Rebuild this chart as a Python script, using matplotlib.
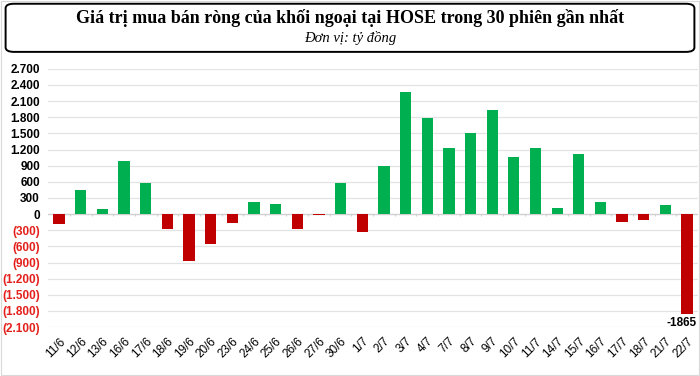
import matplotlib
matplotlib.use("Agg")
import matplotlib.pyplot as plt
from matplotlib.patches import FancyBboxPatch, Rectangle
from matplotlib.ticker import FuncFormatter

# data (ty dong)
dates = ["11/6", "12/6", "13/6", "16/6", "17/6", "18/6", "19/6", "20/6", "23/6", "24/6",
         "25/6", "26/6", "27/6", "30/6", "1/7", "2/7", "3/7", "4/7", "7/7", "8/7",
         "9/7", "10/7", "11/7", "14/7", "15/7", "16/7", "17/7", "18/7", "21/7", "22/7"]
net_value = [-180, 450, 100, 980, 570, -280, -880, -560, -160, 220,
             180, -280, -20, 580, -340, 890, 2270, 1780, 1230, 1500,
             1940, 1070, 1220, 120, 1110, 220, -155, -105, 175, -1865]
y_ticks = [-2100, -1800, -1500, -1200, -900, -600, -300, 0, 300, 600, 900,
           1200, 1500, 1800, 2100, 2400, 2700]

GREEN = "#00b050"
RED = "#c00000"
LABEL_RED = "#e3201b"

fig = plt.figure(figsize=(7, 3.76), dpi=100)
fig.patch.set_facecolor("white")

# outer light border + title box
fig.patches.append(Rectangle((0.001, 0.002), 0.997, 0.996, transform=fig.transFigure,
                             fill=False, edgecolor="#d9d9d9", lw=0.8))
fig.patches.append(FancyBboxPatch((0.008, 0.862), 0.984, 0.128, transform=fig.transFigure,
                                  boxstyle="round,pad=0,rounding_size=0.012",
                                  fill=False, edgecolor="black", lw=1.4))
fig.text(0.5, 0.952, "Giá trị mua bán ròng của khối ngoại tại HOSE trong 30 phiên gần nhất",
         ha="center", va="center", fontsize=13, fontweight="bold", family="Liberation Serif")
fig.text(0.5, 0.900, "Đơn vị: tỷ đồng", ha="center", va="center", fontsize=10.5,
         style="italic", family="Liberation Serif")

ax = fig.add_axes([0.069, 0.130, 0.928, 0.687])
xs = list(range(len(dates)))
colors = [GREEN if v >= 0 else RED for v in net_value]
ax.bar(xs, net_value, width=0.52, color=colors, zorder=3)

ax.set_xlim(-0.5, len(dates) - 0.5)
ax.set_ylim(-2100, 2700)
ax.set_yticks(y_ticks)
ax.yaxis.set_major_formatter(FuncFormatter(
    lambda v, p: f"{abs(int(v)):,}".replace(",", ".") if v >= 0
    else "(" + f"{abs(int(v)):,}".replace(",", ".") + ")"))
for lab, v in zip(ax.get_yticklabels(), y_ticks):
    lab.set_color("black" if v >= 0 else LABEL_RED)
    lab.set_fontweight("bold")
    lab.set_family("Liberation Sans")
    lab.set_fontsize(8.5)
ax.tick_params(axis="y", length=0, pad=6)
ax.grid(axis="y", color="#e3e3e3", lw=0.9, zorder=0)

ax.set_xticks(xs)
ax.set_xticklabels(dates, rotation=45, ha="right", rotation_mode="anchor",
                   fontsize=8.5, family="Liberation Sans")
ax.tick_params(axis="x", length=0, pad=6)

# zero line with small separators between categories
ax.axhline(0, color="#d0d0d0", lw=0.9, zorder=2)
ax.vlines([x + 0.5 for x in xs[:-1]], -35, 0, color="#d0d0d0", lw=0.8, zorder=2)

for s in ax.spines.values():
    s.set_visible(False)

# label on the last bar
ax.text(xs[-1] + 0.42, net_value[-1] - 40, f"{net_value[-1]}", ha="right", va="top",
        fontsize=8.5, fontweight="bold", family="Liberation Sans")

fig.savefig("out.png", dpi=100, facecolor="white")
